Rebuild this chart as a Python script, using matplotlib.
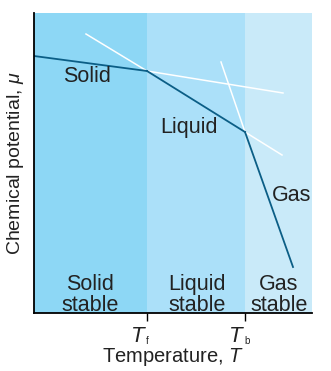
import matplotlib.pyplot as plt

# x in temperature units (0..278), y in chemical potential units (0..300)
t_f = 113
t_b = 211
x_max = 278
y_max = 300

solid_x = [0, t_f]
solid_y = [257, 242]
solid_ext_x = [t_f, 249]
solid_ext_y = [242, 220]

liquid_x = [t_f, t_b]
liquid_y = [242, 181]
liquid_back_x = [52, t_f]
liquid_back_y = [279, 242]
liquid_ext_x = [t_b, 248]
liquid_ext_y = [181, 158]

gas_x = [t_b, 259]
gas_y = [181, 46]
gas_back_x = [187, t_b]
gas_back_y = [251, 181]

tick_subs = ['f', 'b']

plt.rcParams['font.family'] = ['Liberation Sans', 'DejaVu Sans']
plt.rcParams['mathtext.fontset'] = 'custom'
plt.rcParams['mathtext.it'] = 'Liberation Sans:italic'
plt.rcParams['mathtext.rm'] = 'Liberation Sans'

fig = plt.figure(figsize=(3.31, 3.71), dpi=100)
ax = fig.add_axes([34 / 331, 1 - 313 / 371, 278 / 331, 300 / 371])

ax.axvspan(0, t_f, color='#8dd7f5', lw=0)
ax.axvspan(t_f, t_b, color='#abe0f9', lw=0)
ax.axvspan(t_b, x_max, color='#c9eaf9', lw=0)

white = dict(color='white', lw=1.1)
ax.plot(solid_ext_x, solid_ext_y, **white)
ax.plot(liquid_back_x, liquid_back_y, **white)
ax.plot(liquid_ext_x, liquid_ext_y, **white)
ax.plot(gas_back_x, gas_back_y, **white)

blue = dict(color='#0b5e86', lw=1.3)
ax.plot(solid_x, solid_y, **blue)
ax.plot(liquid_x, liquid_y, **blue)
ax.plot(gas_x, gas_y, **blue)

fs = 15.5
tc = '#222222'
ax.text(53, 236, 'Solid', fontsize=fs, ha='center', va='center', color=tc)
ax.text(155, 186, 'Liquid', fontsize=fs, ha='center', va='center', color=tc)
ax.text(258, 118, 'Gas', fontsize=fs, ha='center', va='center', color=tc)

ax.text(56, 18, 'Solid\nstable', fontsize=fs, ha='center', va='center',
        color=tc, linespacing=0.95)
ax.text(163, 18, 'Liquid\nstable', fontsize=fs, ha='center', va='center',
        color=tc, linespacing=0.95)
ax.text(245, 18, 'Gas\nstable', fontsize=fs, ha='center', va='center',
        color=tc, linespacing=0.95)

ax.set_xlim(0, x_max)
ax.set_ylim(0, y_max)
ax.spines['top'].set_visible(False)
ax.spines['right'].set_visible(False)
ax.spines['left'].set_linewidth(1.3)
ax.spines['bottom'].set_linewidth(1.3)
ax.set_yticks([])
ax.set_xticks([t_f, t_b])
ax.set_xticklabels(['$T$', '$T$'], fontsize=16, color=tc)
ax.tick_params(axis='x', direction='out', length=6, width=1, pad=3)
# T sits left of the tick, small subscript just right of it
for lbl in ax.get_xticklabels():
    lbl.set_horizontalalignment('right')
for xt, s in zip([t_f, t_b], tick_subs):
    ax.annotate(s, xy=(xt, 0), xycoords=('data', 'axes fraction'),
                xytext=(-0.5, -20), textcoords='offset points',
                fontsize=7, color=tc, ha='left', va='center')

ax.set_xlabel('Temperature, $T$', fontsize=14.5, labelpad=0, color=tc)
ax.set_ylabel('Chemical potential, $\\mu$', fontsize=14, labelpad=6, color=tc)

fig.savefig('out.png', dpi=100)
